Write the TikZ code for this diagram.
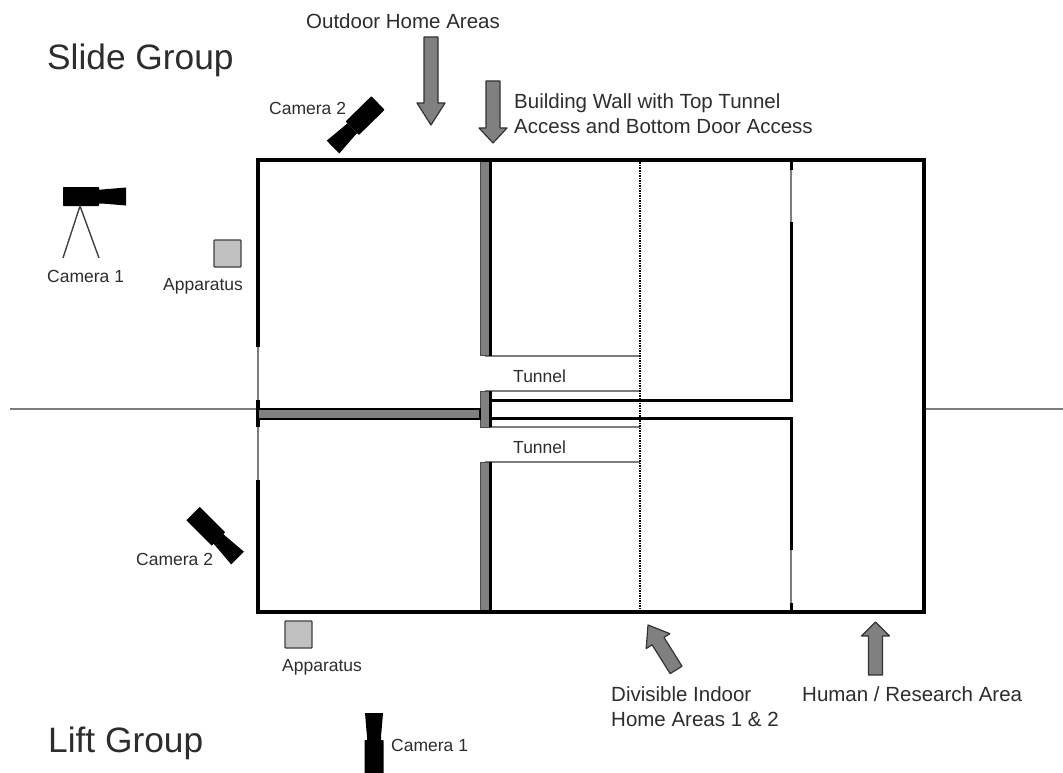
\documentclass[tikz,border=0pt]{standalone}
\usepackage{fontspec}
\setmainfont{Liberation Sans}
\definecolor{wallgray}{RGB}{128,128,128}
\definecolor{thingray}{RGB}{125,125,125}
\definecolor{boxgray}{RGB}{192,192,192}
\definecolor{textgray}{RGB}{45,45,45}
\tikzset{
  label/.style={anchor=west,inner sep=0pt,text=textgray,align=left,
    font=\fontsize{17.5}{25}\selectfont},
  biglabel/.style={label,font=\fontsize{20.5}{25}\selectfont},
  title/.style={anchor=west,inner sep=0pt,text=textgray,
    font=\fontsize{35.3}{40}\selectfont},
  outerwall/.style={line width=4pt,line cap=rect,line join=miter},
  innerwall/.style={line width=3pt},
  thinwall/.style={line width=2pt,color=thingray},
  grayblock/.style={fill=wallgray,draw=black!70,line width=1pt},
  apparatusbox/.style={fill=boxgray,draw=black!75,line width=1.2pt,rounded corners=0.8pt},
  blockarrow/.style={fill=wallgray,draw=black!80,line width=1.2pt,line join=round}
}
\newcommand{\CAMERA}[3]{
  \begin{scope}[shift={(#1pt,#2pt)},rotate=#3]
    \fill[black,rounded corners=0.6pt] (0pt,-9.5pt) rectangle (36pt,9.5pt);
    \fill[black] (36pt,-7pt) -- (39pt,-7pt) -- (63pt,-9pt) -- (63pt,9pt)
    -- (39pt,7pt) -- (36pt,7pt) -- cycle;
  \end{scope}
}
\newcommand{\BLOCKARROW}[5]{
  \draw[blockarrow,shift={(#1pt,#2pt)},rotate=#3] (0pt,0pt) -- (-#5pt,14pt)
  -- (-#5pt,7pt) -- (-#4pt,7pt) -- (-#4pt,-7pt) -- (-#5pt,-7pt)
  -- (-#5pt,-14pt) -- cycle;
}

\begin{document}
\begin{tikzpicture}

  \clip (0pt,0pt) rectangle (1063pt,-773pt);
  \useasboundingbox (0pt,0pt) rectangle (1063pt,-773pt);

  %% middle line between groups
  \draw[thinwall] (10pt,-409pt) -- (258pt,-409pt);
  \draw[thinwall] (924pt,-409pt) -- (1063pt,-409pt);

  %% tunnels
  \draw[thinwall] (485pt,-355.5pt) -- (640pt,-355.5pt);
  \draw[thinwall] (485pt,-391pt) -- (640pt,-391pt);
  \draw[thinwall] (485pt,-427pt) -- (640pt,-427pt);
  \draw[thinwall] (485pt,-462pt) -- (640pt,-462pt);

  %% divider
  \draw[line width=1.5pt,densely dotted] (640pt,-160pt) -- (640pt,-612pt);

  %% left wall
  \draw[thinwall] (258pt,-345pt) -- (258pt,-482pt);
  \draw[line width=4pt] (258pt,-160pt) -- (258pt,-347pt);
  \draw[line width=4pt] (258pt,-400pt) -- (258pt,-427pt);
  \draw[line width=4pt] (258pt,-480pt) -- (258pt,-612pt);

  %% research wall
  \draw[thinwall] (791pt,-168pt) -- (791pt,-224pt);
  \draw[thinwall] (791pt,-548pt) -- (791pt,-606pt);
  \draw[innerwall] (791pt,-160pt) -- (791pt,-170pt);
  \draw[innerwall,line join=miter] (791pt,-222pt) -- (791pt,-400pt) -- (490pt,-400pt);
  \draw[innerwall,line join=miter] (490pt,-418pt) -- (791pt,-418pt) -- (791pt,-550pt);
  \draw[innerwall] (791pt,-603pt) -- (791pt,-612pt);

  %% building wall
  \draw[grayblock] (480pt,-160pt) rectangle (490pt,-355.5pt);
  \draw[grayblock] (480pt,-391pt) rectangle (490pt,-427pt);
  \draw[grayblock] (480pt,-462pt) rectangle (490pt,-612pt);
  \draw[innerwall] (490pt,-160pt) -- (490pt,-355.5pt);
  \draw[innerwall] (490pt,-391pt) -- (490pt,-427pt);
  \draw[innerwall] (490pt,-462pt) -- (490pt,-612pt);

  %% group wall
  \draw[fill=wallgray,line width=2pt] (258pt,-408.5pt) rectangle (480pt,-418.5pt);

  %% outer walls
  \draw[outerwall] (258pt,-160pt) -- (924pt,-160pt) -- (924pt,-612pt)
  -- (258pt,-612pt);

  %% cameras
  \CAMERA{63}{-196.5}{0}
  \draw[line width=1.4pt,color=black!75] (63pt,-258pt) -- (80pt,-206pt) -- (99pt,-258pt);
  \CAMERA{378}{-103}{224.4}
  \CAMERA{193}{-513.5}{-45}
  \CAMERA{374}{-776}{90}

  %% apparatus
  \draw[apparatusbox] (214pt,-240pt) rectangle (241pt,-267pt);
  \draw[apparatusbox] (285pt,-621pt) rectangle (312pt,-648pt);

  %% arrows
  \BLOCKARROW{431}{-125}{-90}{88}{22}
  \BLOCKARROW{493}{-143}{-90}{62}{15}
  \BLOCKARROW{648}{-625}{122}{53}{19}
  \BLOCKARROW{875.5}{-622}{90}{53}{14}

  %% labels
  \node[title] (slidegroup) at (47pt,-60pt) {Slide Group};
  \node[title] (liftgroup) at (48pt,-743pt) {Lift Group};
  \node[biglabel] (outdoor) at (306pt,-21pt) {Outdoor Home Areas};
  \node[biglabel] (building) at (514pt,-113.5pt) {Building Wall with Top Tunnel\\Access and Bottom Door Access};
  \node[label] (camtwotop) at (269pt,-108pt) {Camera 2};
  \node[label] (camonetop) at (47pt,-276pt) {Camera 1};
  \node[label] (apptop) at (163pt,-286pt) {Apparatus};
  \node[label] (tunneltop) at (513pt,-376pt) {Tunnel};
  \node[label] (tunnelbot) at (513pt,-447pt) {Tunnel};
  \node[label] (camtwobot) at (136pt,-559pt) {Camera 2};
  \node[label] (appbot) at (282pt,-667pt) {Apparatus};
  \node[label] (camonebot) at (391pt,-745pt) {Camera 1};
  \node[biglabel] (divisible) at (611pt,-706.5pt) {Divisible Indoor\\Home Areas 1 \& 2};
  \node[biglabel] (human) at (802pt,-694pt) {Human / Research Area};

\end{tikzpicture}
\end{document}
